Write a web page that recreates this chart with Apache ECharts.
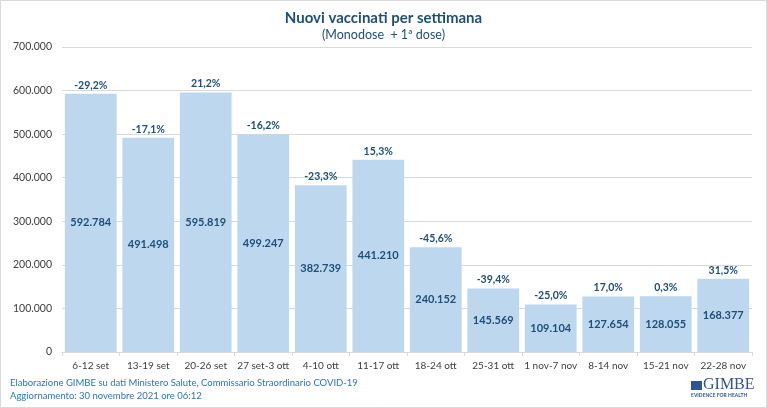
<!DOCTYPE html>
<html><head><meta charset="utf-8">
<script src="https://cdn.jsdelivr.net/npm/echarts@6/dist/echarts.min.js"></script>
<style>html,body{margin:0;padding:0;background:#fff}#c{width:767px;height:408px}</style>
</head><body><div id="c"></div>
<script>
const categories = ['6-12 set','13-19 set','20-26 set','27 set-3 ott','4-10 ott','11-17 ott','18-24 ott','25-31 ott','1 nov-7 nov','8-14 nov','15-21 nov','22-28 nov'];
const values = [592784,491498,595819,499247,382739,441210,240152,145569,109104,127654,128055,168377];
const changes = ['-29,2%','-17,1%','21,2%','-16,2%','-23,3%','15,3%','-45,6%','-39,4%','-25,0%','17,0%','0,3%','31,5%'];
const yTicks = {min:0, max:700000, interval:100000};

const fmt = v => String(v).replace(/\B(?=(\d{3})+(?!\d))/g, '.');
const FONT = 'Lato';
const chart = echarts.init(document.getElementById('c'));
chart.setOption({
  animation:false,
  textStyle:{fontFamily:FONT},
  title:{text:'Nuovi vaccinati per settimana', subtext:'(Monodose  + 1ª dose)', left:'center', top:6, itemGap:2,
    textStyle:{fontFamily:FONT, fontSize:15, fontWeight:'bold', color:'#1f4e79'},
    subtextStyle:{fontFamily:FONT, fontSize:12.5, color:'#1f4e79'}},
  grid:{left:62, right:15, top:47, bottom:56},
  xAxis:{type:'category', data:categories, boundaryGap:true,
    axisLine:{lineStyle:{color:'#d9d9d9'}},
    axisTick:{show:true, length:4, lineStyle:{color:'#d9d9d9'}},
    axisLabel:{interval:0, color:'#404040', fontSize:10, margin:9, fontFamily:FONT}},
  yAxis:{type:'value', min:yTicks.min, max:yTicks.max, interval:yTicks.interval,
    axisLine:{show:false}, axisTick:{show:false},
    splitLine:{lineStyle:{color:'#d9d9d9'}},
    axisLabel:{color:'#404040', fontSize:10.5, margin:10, fontFamily:FONT, formatter:v=>fmt(v)}},
  series:[
    {type:'bar', data:values, barCategoryGap:'10%', itemStyle:{color:'#bdd7ee'},
     label:{show:true, position:'inside', formatter:p=>fmt(p.value), color:'#1f4e79', fontWeight:'bold', fontSize:11, fontFamily:FONT}},
    {type:'bar', data:values, barGap:'-100%', barCategoryGap:'10%', itemStyle:{color:'rgba(0,0,0,0)'}, silent:true,
     label:{show:true, position:'top', distance:3, formatter:p=>changes[p.dataIndex], color:'#1f4e79', fontWeight:'bold', fontSize:10.5, fontFamily:FONT}}
  ],
  graphic:[
    {type:'rect', shape:{x:0.5,y:0.5,width:766,height:407}, style:{fill:'none', stroke:'#d9d9d9', lineWidth:1}},
    {type:'text', left:10, top:378, style:{text:'Elaborazione GIMBE su dati Ministero Salute, Commissario Straordinario COVID-19', fill:'#2e75b6', font:'9.5px '+FONT}},
    {type:'text', left:10, top:391, style:{text:'Aggiornamento: 30 novembre 2021 ore 06:12', fill:'#2e75b6', font:'9.5px '+FONT}},
    {type:'rect', shape:{x:691,y:381,width:11,height:9}, style:{fill:'#2f5597'}},
    {type:'text', left:703, top:377, style:{text:'GIMBE', fill:'#2f5597', font:'16px "Liberation Serif"'}},
    {type:'text', left:691, top:393, style:{text:'EVIDENCE FOR HEALTH', fill:'#2f5597', font:'bold 5px '+FONT}}
  ]
});
</script></body></html>
